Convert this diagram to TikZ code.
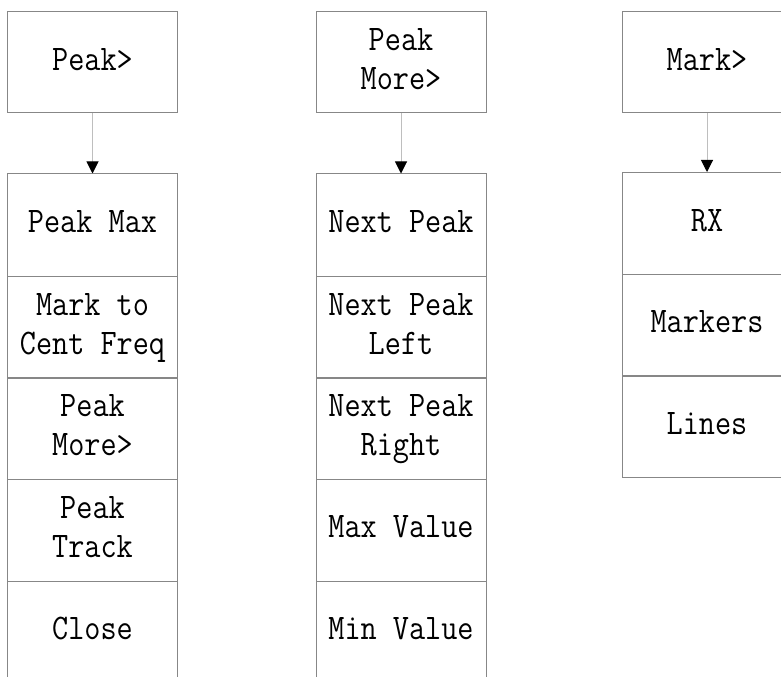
\documentclass[tikz,border=0pt]{standalone}
\usepackage{graphicx}
\usetikzlibrary{arrows.meta}
\definecolor{boxgray}{RGB}{135,135,135}
\definecolor{arrowgray}{RGB}{190,190,190}
\newcommand{\menutext}[1]{\scalebox{0.87}[1]{\fontsize{27}{29.3}\selectfont\ttfamily\begin{tabular}{@{}c@{}}#1\end{tabular}}}
\tikzset{
  menubox/.style={draw=boxgray, line width=0.75pt, rectangle, inner sep=0pt,
    minimum width=127.5pt, minimum height=#1, text=black},
  menubox/.default=76.5pt,
  headbox/.style={menubox=75.75pt},
  link/.style={draw=arrowgray, line width=0.75pt,
    -{Triangle[width=9pt,length=9pt,color=black]}}
}
\begin{document}
\begin{tikzpicture}[x=0.75pt,y=-0.75pt]
\useasboundingbox (0,0) rectangle (781,677);
\clip (0,0) rectangle (781,677);

% Peak menu
\node[headbox] (peak) at (92.5,62.5) {\menutext{Peak>}};
\node[menubox] (pmax)   at (92.5,225)   {\menutext{Peak Max}};
\node[menubox] (pcent)  at (92.5,327)   {\menutext{Mark to\\Cent Freq}};
\node[menubox] (pmore)  at (92.5,428.5) {\menutext{Peak\\More>}};
\node[menubox] (ptrack) at (92.5,530)   {\menutext{Peak\\Track}};
\node[menubox] (pclose) at (92.5,632)   {\menutext{Close}};
\draw[link] (peak.south) -- (pmax.north);

% Peak More menu
\node[headbox] (more) at (401,62.5) {\menutext{Peak\\More>}};
\node[menubox] (mnext)  at (401,225)   {\menutext{Next Peak}};
\node[menubox] (mleft)  at (401,327)   {\menutext{Next Peak\\Left}};
\node[menubox] (mright) at (401,428.5) {\menutext{Next Peak\\Right}};
\node[menubox] (mmax)   at (401,530)   {\menutext{Max Value}};
\node[menubox] (mmin)   at (401,632)   {\menutext{Min Value}};
\draw[link] (more.south) -- (mnext.north);

% Mark menu
\node[headbox] (mark) at (707,62.5) {\menutext{Mark>}};
\node[menubox] (mrx)   at (707,223.5) {\menutext{RX}};
\node[menubox] (mmark) at (707,325)   {\menutext{Markers}};
\node[menubox] (mline) at (707,426.5) {\menutext{Lines}};
\draw[link] (mark.south) -- (mrx.north);
\end{tikzpicture}
\end{document}
